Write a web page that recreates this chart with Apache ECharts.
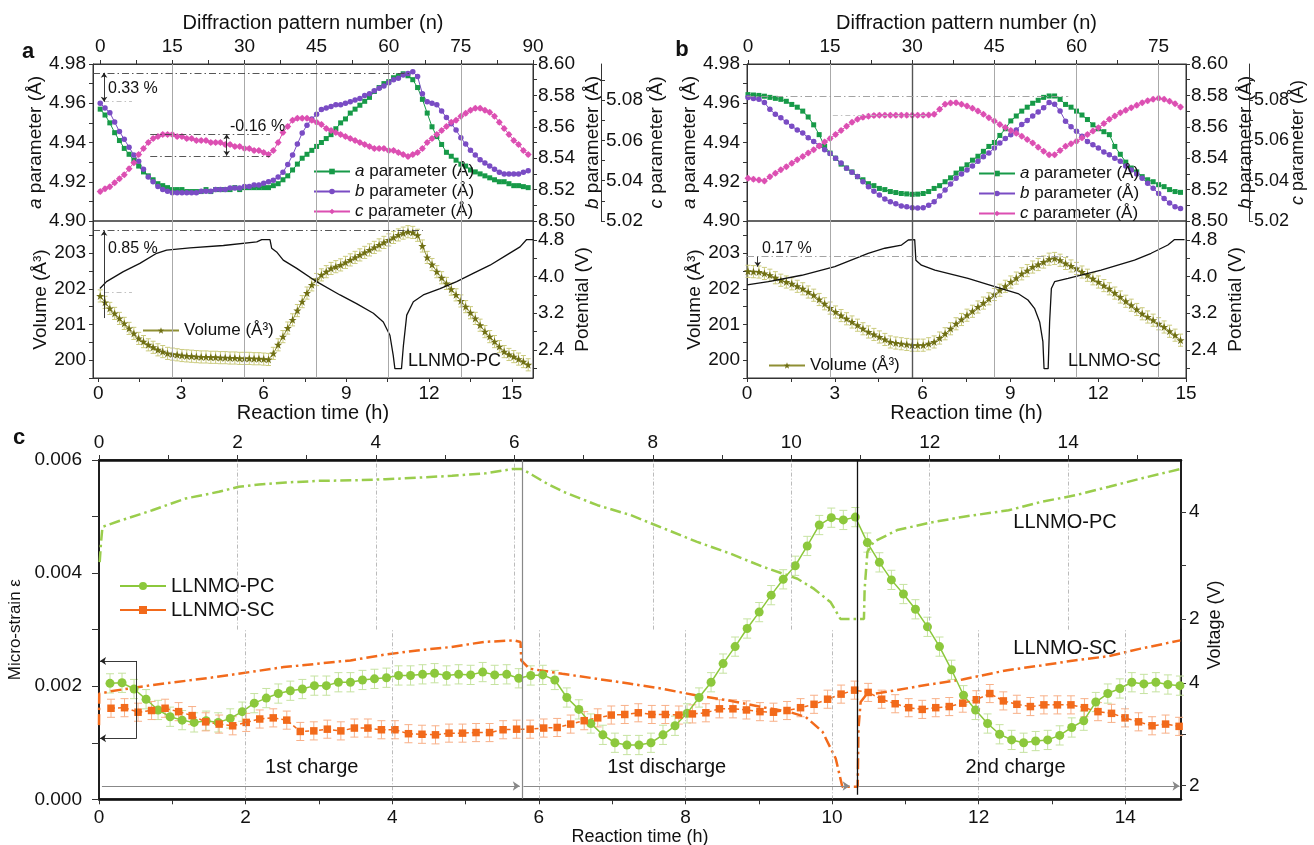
<!DOCTYPE html>
<html>
<head>
<meta charset="utf-8">
<script src="https://cdn.jsdelivr.net/npm/echarts@6/dist/echarts.min.js"></script>
<style>html,body{margin:0;padding:0;background:#fff}#main{width:1314px;height:845px}</style>
</head>
<body>
<div id="main"></div>
<script>
// ================= DATA =================
// Panel a (LLNMO-PC), one value per diffraction pattern n = 0..89
const aParamA = [4.957,4.954,4.950,4.945,4.941,4.937,4.934,4.931,4.928,4.925,
 4.923,4.921,4.919,4.918,4.917,4.916,4.916,4.916,4.915,4.915,
 4.915,4.915,4.916,4.915,4.916,4.916,4.916,4.916,4.917,4.916,
 4.917,4.917,4.917,4.917,4.917,4.917,4.918,4.919,4.921,4.923,
 4.926,4.929,4.932,4.934,4.936,4.938,4.940,4.942,4.944,4.947,
 4.950,4.952,4.955,4.957,4.959,4.961,4.963,4.966,4.968,4.970,
 4.971,4.973,4.974,4.975,4.974,4.972,4.968,4.962,4.955,4.948,
 4.943,4.939,4.935,4.933,4.931,4.929,4.928,4.926,4.925,4.924,
 4.923,4.922,4.921,4.920,4.920,4.919,4.918,4.918,4.9175,4.917];
const bParamA = [8.575,8.572,8.569,8.563,8.557,8.552,8.547,8.542,8.538,8.533,
 8.528,8.525,8.522,8.520,8.519,8.518,8.518,8.518,8.518,8.518,
 8.518,8.519,8.519,8.519,8.520,8.520,8.520,8.521,8.521,8.521,
 8.522,8.522,8.523,8.523,8.524,8.525,8.526,8.528,8.531,8.536,
 8.542,8.549,8.556,8.561,8.565,8.568,8.571,8.572,8.573,8.574,
 8.574,8.575,8.576,8.577,8.578,8.580,8.581,8.583,8.5845,8.586,
 8.588,8.590,8.591,8.593,8.594,8.595,8.592,8.581,8.576,8.575,
 8.574,8.570,8.566,8.562,8.558,8.553,8.549,8.545,8.542,8.539,
 8.537,8.535,8.533,8.531,8.530,8.530,8.530,8.530,8.531,8.532];
const cParamA = [5.0346,5.036,5.037,5.039,5.041,5.043,5.046,5.049,5.053,5.056,
 5.059,5.061,5.062,5.063,5.063,5.063,5.062,5.062,5.061,5.061,
 5.060,5.060,5.060,5.059,5.059,5.059,5.058,5.058,5.057,5.057,
 5.056,5.056,5.055,5.055,5.054,5.053,5.055,5.059,5.064,5.067,
 5.070,5.071,5.071,5.071,5.070,5.069,5.068,5.066,5.065,5.064,
 5.063,5.062,5.061,5.060,5.059,5.058,5.057,5.056,5.056,5.056,
 5.055,5.055,5.054,5.053,5.052,5.053,5.054,5.056,5.059,5.061,
 5.063,5.065,5.067,5.069,5.070,5.072,5.0735,5.075,5.076,5.076,
 5.075,5.074,5.072,5.069,5.066,5.063,5.060,5.058,5.055,5.053];
const volumeA = [201.80,201.62,201.45,201.31,201.17,201.03,200.89,200.75,200.61,200.52,
 200.43,200.36,200.29,200.24,200.19,200.17,200.15,200.13,200.12,200.11,
 200.10,200.09,200.09,200.08,200.08,200.07,200.07,200.06,200.06,200.05,
 200.05,200.05,200.04,200.04,200.03,200.02,200.19,200.43,200.66,200.90,
 201.13,201.39,201.64,201.88,202.11,202.26,202.39,202.48,202.57,202.62,
 202.67,202.74,202.81,202.88,202.95,203.02,203.09,203.16,203.23,203.30,
 203.37,203.44,203.51,203.56,203.60,203.58,203.50,203.20,202.88,202.68,
 202.48,202.31,202.15,201.99,201.83,201.66,201.50,201.33,201.17,200.98,
 200.80,200.66,200.52,200.38,200.24,200.16,200.10,200.03,199.96,199.87];
const potTimeA = [0.06,0.30,0.91,1.51,2.12,2.48,3.33,4.54,5.75,5.93,6.23,6.29,6.47,6.71,7.20,7.92,8.77,9.37,9.98,10.34,
 10.58,10.70,10.76,11.0,11.07,11.19,11.43,11.79,12.4,13.0,13.6,14.21,14.81,15.3,15.54,15.78];
const potA = [3.74,3.89,4.11,4.29,4.51,4.58,4.63,4.68,4.76,4.81,4.81,4.62,4.54,4.36,4.18,3.89,3.60,3.41,3.20,3.01,
 2.72,2.28,1.99,1.99,2.50,3.16,3.45,3.60,3.74,3.89,4.07,4.25,4.47,4.65,4.81,4.81];

// Panel b (LLNMO-SC), n = 0..79
const aParamB = [4.9644,4.9642,4.964,4.9636,4.963,4.9625,4.962,4.961,4.9594,4.958,
 4.956,4.953,4.949,4.944,4.938,4.9346,4.932,4.929,4.927,4.925,
 4.9226,4.921,4.919,4.918,4.9166,4.916,4.915,4.9145,4.914,4.9138,
 4.9136,4.9137,4.914,4.915,4.9166,4.918,4.920,4.922,4.9244,4.9265,
 4.9286,4.931,4.933,4.9355,4.938,4.940,4.9436,4.947,4.951,4.9535,
 4.956,4.958,4.960,4.9615,4.963,4.9637,4.9637,4.962,4.9594,4.958,
 4.956,4.954,4.9517,4.949,4.947,4.9455,4.944,4.938,4.934,4.930,
 4.927,4.925,4.9226,4.921,4.920,4.9185,4.9175,4.916,4.915,4.9146];
const bParamB = [8.5786,8.578,8.5775,8.5754,8.5711,8.568,8.5657,8.563,8.5604,8.558,
 8.5561,8.553,8.5507,8.548,8.5454,8.543,8.540,8.537,8.5336,8.531,
 8.5283,8.525,8.5218,8.519,8.5165,8.514,8.5122,8.511,8.5096,8.509,
 8.5084,8.5083,8.5084,8.510,8.5122,8.516,8.5197,8.5235,8.5272,8.530,
 8.5325,8.535,8.538,8.541,8.5433,8.5465,8.5497,8.5525,8.555,8.558,
 8.5615,8.564,8.5668,8.5695,8.5722,8.5754,8.5743,8.570,8.5636,8.560,
 8.5572,8.554,8.5507,8.5485,8.5465,8.544,8.5422,8.540,8.538,8.535,
 8.5325,8.530,8.5272,8.524,8.5208,8.5175,8.5143,8.5115,8.509,8.5079];
const cParamB = [5.0412,5.0408,5.0404,5.0399,5.042,5.0437,5.0454,5.047,5.0487,5.0504,
 5.0521,5.0538,5.0554,5.0573,5.0593,5.061,5.063,5.065,5.0671,5.069,
 5.0705,5.0715,5.0721,5.0724,5.0726,5.0726,5.0726,5.0726,5.0726,5.0726,
 5.0726,5.0726,5.0726,5.0727,5.073,5.0755,5.078,5.0786,5.0788,5.078,
 5.0771,5.076,5.0746,5.073,5.0713,5.0697,5.068,5.0665,5.065,5.0636,
 5.0621,5.0605,5.0588,5.0567,5.0546,5.0529,5.0529,5.055,5.0571,5.0584,
 5.0596,5.0613,5.063,5.0647,5.0663,5.0684,5.0705,5.0722,5.0738,5.075,
 5.0763,5.0775,5.0788,5.0797,5.0805,5.081,5.0805,5.0795,5.0783,5.0766];
const volumeB = [202.49,202.48,202.47,202.43,202.38,202.31,202.24,202.19,202.14,202.07,
 202.00,201.91,201.82,201.70,201.58,201.46,201.35,201.25,201.16,201.07,
 200.98,200.88,200.79,200.72,200.65,200.58,200.51,200.48,200.46,200.44,
 200.42,200.42,200.42,200.46,200.51,200.62,200.74,200.88,201.02,201.14,
 201.26,201.37,201.49,201.60,201.72,201.84,201.96,202.07,202.19,202.30,
 202.42,202.51,202.61,202.68,202.75,202.83,202.85,202.80,202.71,202.64,
 202.57,202.47,202.38,202.28,202.19,202.09,202.00,201.88,201.77,201.65,
 201.54,201.42,201.30,201.21,201.12,201.02,200.93,200.81,200.70,200.56];
const potTimeB = [0,0.73,1.87,3.0,4.14,4.71,5.28,5.51,5.73,5.77,5.96,6.42,7.55,8.69,9.26,9.6,9.83,10.0,10.11,10.15,
 10.29,10.34,10.4,10.51,10.97,12.1,13.24,13.81,14.38,14.61,14.95];
const potB = [3.82,3.89,4.03,4.22,4.51,4.62,4.69,4.80,4.81,4.36,4.25,4.14,3.96,3.74,3.63,3.49,3.30,3.01,2.58,1.99,
 1.99,3.01,3.74,3.89,3.96,4.14,4.36,4.51,4.69,4.81,4.81];

// Panel c: micro-strain per pattern, and voltage profiles
const strainPC = [0.00205,0.00206,0.00195,0.00177,0.00158,0.00146,0.00140,0.00136,0.00139,0.00136,
 0.00143,0.00155,0.00170,0.00179,0.00187,0.00192,0.00195,0.00201,0.00201,0.00207,
 0.00207,0.00211,0.00213,0.00215,0.00219,0.00219,0.00221,0.00223,0.00219,0.00221,
 0.00220,0.00225,0.00220,0.00221,0.00214,0.00219,0.00220,0.00211,0.00180,0.00159,
 0.00134,0.00114,0.00100,0.00096,0.00096,0.00100,0.00114,0.00130,0.00152,0.00180,
 0.00207,0.00240,0.00270,0.00302,0.00331,0.00361,0.00389,0.00413,0.00448,0.00485,
 0.00498,0.00494,0.00499,0.00454,0.00419,0.00388,0.00363,0.00336,0.00305,0.00270,
 0.00229,0.00184,0.00158,0.00134,0.00115,0.00105,0.00100,0.00103,0.00105,0.00113,
 0.00127,0.00139,0.00172,0.00187,0.00196,0.00207,0.00204,0.00207,0.00203,0.00201];
const strainSC = [0.00161,0.00162,0.00154,0.00157,0.00161,0.00155,0.00148,0.00137,0.00133,0.00130,
 0.00136,0.00142,0.00144,0.00140,0.00120,0.00121,0.00124,0.00121,0.00126,0.00126,
 0.00123,0.00123,0.00116,0.00115,0.00114,0.00117,0.00117,0.00118,0.00118,0.00123,
 0.00124,0.00124,0.00126,0.00127,0.00133,0.00139,0.00144,0.00149,0.00150,0.00153,
 0.00150,0.00150,0.00149,0.00151,0.00153,0.00160,0.00160,0.00158,0.00155,0.00154,
 0.00157,0.00162,0.00168,0.00177,0.00186,0.00193,0.00189,0.00177,0.00169,0.00162,
 0.00159,0.00162,0.00164,0.00170,0.00176,0.00187,0.00174,0.00168,0.00164,0.00167,
 0.00167,0.00167,0.00162,0.00155,0.00152,0.00144,0.00137,0.00130,0.00133,0.00129];
const voltTimePC = [0.01,0.03,0.05,0.29,0.77,1.25,1.73,2.02,2.31,2.70,3.18,3.66,4.14,4.62,5.10,5.58,5.97,6.11,6.26,6.47,
 6.71,7.20,7.68,8.16,8.64,9.12,9.60,9.89,10.09,10.33,10.57,10.71,11.05,11.06,11.10,11.19,11.53,12.01,12.49,13.14,
 13.62,14.10,14.59,15.07,15.62];
const voltPC = [3.06,3.44,3.72,3.83,4.03,4.25,4.375,4.47,4.51,4.55,4.58,4.59,4.61,4.64,4.675,4.72,4.80,4.80,4.69,4.53,
 4.375,4.125,3.94,3.69,3.44,3.22,2.97,2.84,2.75,2.56,2.31,2.0,2.0,2.56,3.25,3.44,3.66,3.80,3.91,4.03,
 4.19,4.31,4.47,4.63,4.80];
const voltTimeSC = [0,0.003,0.16,0.7,1.61,2.52,3.43,3.89,4.34,4.80,5.25,5.66,5.75,5.76,5.87,6.32,6.78,7.23,7.68,8.14,
 8.59,9.05,9.41,9.64,9.87,10.05,10.14,10.35,10.36,10.39,10.46,10.87,11.32,11.78,12.39,12.85,13.30,13.76,14.21,14.75];
const voltSC = [3.18,3.79,3.84,3.955,4.12,4.31,4.44,4.55,4.635,4.70,4.80,4.83,4.80,4.44,4.28,4.18,4.085,3.99,3.89,3.76,
 3.66,3.53,3.44,3.34,3.05,2.53,1.98,1.98,3.11,3.63,3.76,3.86,3.97,4.07,4.25,4.34,4.44,4.52,4.67,4.83];

// Tick labels
const nLabelsA = [0,15,30,45,60,75,90];
const nLabelsB = [0,15,30,45,60,75];
const timeLabelsAB = [0,3,6,9,12,15];
const aLabels = [4.90,4.92,4.94,4.96,4.98];
const bLabels = [8.50,8.52,8.54,8.56,8.58,8.60];
const cLabels = [5.02,5.04,5.06,5.08];
const volLabels = [200,201,202,203];
const potLabels = [2.4,3.2,4.0,4.8];
const timeLabelsC = [0,2,4,6,8,10,12,14];
const strainLabels = [0,0.002,0.004,0.006];
const voltLabelsC = [2,4];
const phaseLabels = ['1st charge','1st discharge','2nd charge'];
const legendABC = ['a parameter (Å)','b parameter (Å)','c parameter (Å)'];

// ================= STYLE / LAYOUT =================
const FONT = '"Liberation Sans", Arial, Helvetica, sans-serif';
const nMinorA = [0,7.5,15,22.5,30,37.5,45,52.5,60,67.5,75,82.5,90];
const nMinorB = [0,7.5,15,22.5,30,37.5,45,52.5,60,67.5,75];
const tMinorAB = [0,1.5,3,4.5,6,7.5,9,10.5,12,13.5,15];
const aMinor = [4.90,4.91,4.92,4.93,4.94,4.95,4.96,4.97,4.98];
const bMinor = [8.50,8.51,8.52,8.53,8.54,8.55,8.56,8.57,8.58,8.59,8.60];
const cMinor = [5.02,5.03,5.04,5.05,5.06,5.07,5.08,5.09];
const volMinor = [199.5,200,200.5,201,201.5,202,202.5,203,203.5];
const potMinor = [2.0,2.4,2.8,3.2,3.6,4.0,4.4,4.8];
const tMinorC = [0,1,2,3,4,5,6,7,8,9,10,11,12,13,14,15];
const strainMinor = [0,0.001,0.002,0.003,0.004,0.005,0.006];
const gridN = [15,30,45,60,75];
const gridTC = [2,4,6,8,10,12,14];

const COL = {
  a:'#179a48', aErr:'#93d4a6',
  b:'#7a4cc4', bErr:'#bda8e6',
  c:'#dc4fb2', cErr:'#f0a8dc',
  v:'#6f6f14', vLine:'#8f8f34', vErr:'#cbcb7e',
  pc:'#8cc83c', pcErr:'#c6e3a0',
  sc:'#f26a1b', scErr:'#f8b088'
};
const STAR = 'path://M12,1 L15,9 L23,9 L16.5,14 L19,22 L12,17 L5,22 L7.5,14 L1,9 L9,9 Z';

const idx = arr => arr.map((_, i) => i);
const pts = (xs, ys) => ys.map((v, i) => [xs[i], v]);
const nA = idx(aParamA), nB = idx(aParamB), kPC = idx(strainPC), jSC = idx(strainSC);

function vAxis(o) {
  const ax = {
    type:'value', nameLocation:'middle',
    splitLine:{show:false},
    axisLine:{show:true, onZero:false, lineStyle:{color:'#333', width:1}},
    axisTick:{show:true, length:4, lineStyle:{color:'#333', width:1}},
    axisLabel:{color:'#111', fontFamily:FONT, fontSize:19},
    nameTextStyle:{color:'#111', fontFamily:FONT, fontSize:19}
  };
  Object.keys(o).forEach(k => {
    const v = o[k];
    if (v && typeof v === 'object' && !Array.isArray(v) && ax[k] && typeof ax[k] === 'object') ax[k] = Object.assign({}, ax[k], v);
    else ax[k] = v;
  });
  return ax;
}
const hid = (g, min, max) => ({type:'value', gridIndex:g, show:false, min:min, max:max, splitLine:{show:false}});
const f0 = v => String(v), f1 = v => v.toFixed(1), f2 = v => v.toFixed(2), f3 = v => v.toFixed(3);
const ital = {i:{fontStyle:'italic', fontFamily:FONT, fontSize:19, color:'#111'}};
const nameStyle = (sz, rich) => ({color:'#111', fontFamily:FONT, fontSize:sz, rich: rich});

function errBars(xi, yi, xs, ys, err, color, cap) {
  return {type:'custom', xAxisIndex:xi, yAxisIndex:yi, silent:true, z:1,
    data: ys.map((v, i) => [xs[i], v - err, v + err]),
    encode:{x:0, y:[1,2]},
    renderItem:(p, api) => {
      const x = api.value(0);
      const lo = api.coord([x, api.value(1)]);
      const hi = api.coord([x, api.value(2)]);
      const st = {stroke:color, lineWidth:1};
      return {type:'group', children:[
        {type:'line', shape:{x1:lo[0], y1:lo[1], x2:hi[0], y2:hi[1]}, style:st},
        {type:'line', shape:{x1:lo[0]-cap, y1:lo[1], x2:lo[0]+cap, y2:lo[1]}, style:st},
        {type:'line', shape:{x1:hi[0]-cap, y1:hi[1], x2:hi[0]+cap, y2:hi[1]}, style:st}
      ]};
    }};
}
function ml(data) { return {silent:true, animation:false, symbol:['none','none'], label:{show:false}, emphasis:{disabled:true}, data:data}; }
const vl = (x, color, width, type) => ({xAxis:x, lineStyle:{color:color, width:width, type:type || 'solid'}});
function seg(x1, y1, x2, y2, style, s1, s2, size) {
  return [{coord:[x1,y1], symbol:s1 || 'none', symbolSize:size || 6, lineStyle:style},
          {coord:[x2,y2], symbol:s2 || 'none', symbolSize:size || 6, lineStyle:style}];
}
const DD_DARK = {color:'#444', width:0.9, type:[7,3,1.5,3]};
const DD_GRAY = {color:'#999', width:0.9, type:[7,3,1.5,3]};
const DASH_LT = {color:'#bbb', width:0.9, type:[5,3,1.5,3]};
const ARW = {color:'#222', width:0.9, type:'solid'};
const SOLID_BLACK = {color:'#111', width:1.3, type:'solid'};
const SOLID_GRAY = {color:'#888', width:1, type:'solid'};

function pLine(name, xi, yi, xs, ys, color, symbol, size, extra) {
  return Object.assign({
    name:name, type:'line', xAxisIndex:xi, yAxisIndex:yi, data:pts(xs, ys),
    symbol:symbol, symbolSize:size, showSymbol:true, z:3,
    itemStyle:{color:color}, lineStyle:{color:color, width:1}
  }, extra || {});
}

const gridBox = {show:true, borderColor:'#333', borderWidth:1, backgroundColor:'transparent', outerBoundsMode:'none', containLabel:false};

const option = {
  animation:false,
  backgroundColor:'#fff',
  textStyle:{fontFamily:FONT},
  grid:[
    Object.assign({left:93, top:64, width:440, height:157}, gridBox),
    Object.assign({left:93, top:221, width:440, height:157}, gridBox),
    Object.assign({left:747, top:64, width:439, height:157}, gridBox),
    Object.assign({left:747, top:221, width:439, height:157}, gridBox),
    {left:99, top:460, width:1082, height:339.3, show:true, borderColor:'#111', borderWidth:1.5, outerBoundsMode:'none', containLabel:false},
    {left:99, top:460, width:1082, height:169.6, outerBoundsMode:'none', containLabel:false},
    {left:99, top:629.6, width:1082, height:169.7, outerBoundsMode:'none', containLabel:false}
  ],
  xAxis:[
    vAxis({gridIndex:0, position:'top', min:-1.5, max:90, name:'Diffraction pattern number (n)', nameGap:31,
      nameTextStyle:nameStyle(20), axisTick:{customValues:nMinorA}, axisLabel:{customValues:nLabelsA, formatter:f0, margin:8}}),
    vAxis({gridIndex:1, position:'bottom', min:-0.19, max:15.77, name:'Reaction time (h)', nameGap:24,
      nameTextStyle:nameStyle(20), axisTick:{customValues:tMinorAB}, axisLabel:{customValues:timeLabelsAB, formatter:f0, margin:6}}),
    hid(1, -1.5, 90),
    vAxis({gridIndex:2, position:'top', min:-0.18, max:80, name:'Diffraction pattern number (n)', nameGap:31,
      nameTextStyle:nameStyle(20), axisTick:{customValues:nMinorB}, axisLabel:{customValues:nLabelsB, formatter:f0, margin:8}}),
    vAxis({gridIndex:3, position:'bottom', min:0, max:15, name:'Reaction time (h)', nameGap:24,
      nameTextStyle:nameStyle(20), axisTick:{customValues:tMinorAB}, axisLabel:{customValues:timeLabelsAB, formatter:f0, margin:6}}),
    hid(3, -0.18, 80),
    vAxis({gridIndex:4, position:'bottom', min:0, max:14.76, name:'Reaction time (h)', nameGap:28,
      nameTextStyle:nameStyle(18), axisLine:{show:true, onZero:false, lineStyle:{color:'#111', width:2.5}},
      axisTick:{customValues:tMinorC, length:5}, axisLabel:{customValues:timeLabelsC, formatter:f0, margin:9, fontSize:19}}),
    vAxis({gridIndex:4, position:'top', min:0, max:15.63,
      axisLine:{show:true, onZero:false, lineStyle:{color:'#111', width:2.5}},
      axisTick:{customValues:tMinorC, length:5}, axisLabel:{customValues:timeLabelsC, formatter:f0, margin:8, fontSize:19}}),
    hid(4, -0.915, 89.09),
    hid(4, -0.888, 79.14),
    hid(5, 0, 15.63),
    hid(6, 0, 14.76)
  ],
  yAxis:[
    vAxis({gridIndex:0, position:'left', min:4.90, max:4.98, name:'{i|a} parameter (Å)', nameGap:39, nameRotate:90,
      nameTextStyle:nameStyle(19, ital), axisTick:{customValues:aMinor}, axisLabel:{customValues:aLabels, formatter:f2, margin:7}}),
    vAxis({gridIndex:0, position:'right', min:8.50, max:8.60, name:'{i|b} parameter (Å)', nameGap:50, nameRotate:90,
      nameTextStyle:nameStyle(19, ital), axisTick:{customValues:bMinor}, axisLabel:{customValues:bLabels, formatter:f2, margin:5}}),
    vAxis({gridIndex:0, position:'right', offset:68, min:5.02, max:5.098, name:'{i|c} parameter (Å)', nameGap:45, nameRotate:90,
      nameTextStyle:nameStyle(19, ital), axisTick:{customValues:cMinor}, axisLabel:{customValues:cLabels, formatter:f2, margin:5}}),
    vAxis({gridIndex:1, position:'left', min:199.5, max:203.9, name:'Volume (Å³)', nameGap:39, nameRotate:90,
      axisTick:{customValues:volMinor}, axisLabel:{customValues:volLabels, formatter:f0, margin:7}}),
    vAxis({gridIndex:1, position:'right', min:1.786, max:5.215, name:'Potential (V)', nameGap:40, nameRotate:90,
      axisTick:{customValues:potMinor}, axisLabel:{customValues:potLabels, formatter:f1, margin:5}}),
    vAxis({gridIndex:2, position:'left', min:4.90, max:4.98, name:'{i|a} parameter (Å)', nameGap:39, nameRotate:90,
      nameTextStyle:nameStyle(19, ital), axisTick:{customValues:aMinor}, axisLabel:{customValues:aLabels, formatter:f2, margin:7}}),
    vAxis({gridIndex:2, position:'right', min:8.50, max:8.60, name:'{i|b} parameter (Å)', nameGap:50, nameRotate:90,
      nameTextStyle:nameStyle(19, ital), axisTick:{customValues:bMinor}, axisLabel:{customValues:bLabels, formatter:f2, margin:5}}),
    vAxis({gridIndex:2, position:'right', offset:63, min:5.02, max:5.098, name:'{i|c} parameter (Å)', nameGap:40, nameRotate:90,
      nameMoveOverlap:false,
      nameTextStyle:nameStyle(18, {i:{fontStyle:'italic', fontFamily:FONT, fontSize:18, color:'#111'}}),
      axisTick:{customValues:cMinor}, axisLabel:{customValues:cLabels, formatter:f2, margin:5, fontSize:18}}),
    vAxis({gridIndex:3, position:'left', min:199.5, max:203.9, name:'Volume (Å³)', nameGap:39, nameRotate:90,
      axisTick:{customValues:volMinor}, axisLabel:{customValues:volLabels, formatter:f0, margin:7}}),
    vAxis({gridIndex:3, position:'right', min:1.786, max:5.215, name:'Potential (V)', nameGap:40, nameRotate:90,
      axisTick:{customValues:potMinor}, axisLabel:{customValues:potLabels, formatter:f1, margin:5}}),
    vAxis({gridIndex:4, position:'left', min:0, max:0.006, name:'Micro-strain ε', nameGap:70, nameRotate:90,
      nameTextStyle:nameStyle(17), axisLine:{show:true, onZero:false, lineStyle:{color:'#111', width:1.5}},
      axisTick:{customValues:strainMinor, length:7}, axisLabel:{customValues:strainLabels, formatter:f3, margin:17, fontSize:19}}),
    vAxis({gridIndex:5, position:'right', min:1.8, max:4.97,
      axisLine:{show:true, onZero:false, lineStyle:{color:'#111', width:1.5}},
      axisTick:{customValues:[2,3,4], length:5}, axisLabel:{customValues:voltLabelsC, formatter:f0, margin:8, fontSize:19}}),
    vAxis({gridIndex:6, position:'right', min:1.736, max:5.04,
      axisLine:{show:true, onZero:false, lineStyle:{color:'#111', width:1.5}},
      axisTick:{customValues:[2,3,4], length:5}, axisLabel:{customValues:voltLabelsC, formatter:f0, margin:8, fontSize:19}})
  ],
  legend:[
    {left:308, top:157, orient:'vertical', itemWidth:36, itemHeight:7, itemGap:1, selectedMode:false, data:legendABC,
      formatter: n => '{i|' + n.charAt(0) + '}' + n.slice(1),
      textStyle:{color:'#111', fontFamily:FONT, fontSize:17, lineHeight:19, rich:{i:{fontStyle:'italic', fontFamily:FONT, fontSize:17, lineHeight:19, color:'#111'}}}},
    {left:137, top:316, orient:'vertical', itemWidth:36, itemHeight:8, selectedMode:false, data:['Volume (Å³)'],
      textStyle:{color:'#111', fontFamily:FONT, fontSize:17, lineHeight:19}},
    {left:973, top:159, orient:'vertical', itemWidth:36, itemHeight:7, itemGap:1, selectedMode:false, data:legendABC,
      formatter: n => '{i|' + n.charAt(0) + '}' + n.slice(1),
      textStyle:{color:'#111', fontFamily:FONT, fontSize:17, lineHeight:19, rich:{i:{fontStyle:'italic', fontFamily:FONT, fontSize:17, lineHeight:19, color:'#111'}}}},
    {left:763, top:351, orient:'vertical', itemWidth:36, itemHeight:8, selectedMode:false, data:['Volume (Å³)'],
      textStyle:{color:'#111', fontFamily:FONT, fontSize:17, lineHeight:19}},
    {left:114, top:570, orient:'vertical', itemWidth:46, itemHeight:10, itemGap:2, selectedMode:false, data:['LLNMO-PC','LLNMO-SC'],
      lineStyle:{type:'solid'}, textStyle:{color:'#111', fontFamily:FONT, fontSize:20, lineHeight:22}}
  ],
  series:[
    // ----- panel a top -----
    errBars(0, 0, nA, aParamA, 0.0008, COL.aErr, 2),
    errBars(0, 1, nA, bParamA, 0.0010, COL.bErr, 2),
    errBars(0, 2, nA, cParamA, 0.0010, COL.cErr, 2),
    pLine(legendABC[0], 0, 0, nA, aParamA, COL.a, 'rect', 5, {markLine: ml([
      ...gridN.map(v => vl(v, '#aaa', 1)),
      seg(-1.5, 4.9755, 64.4, 4.9755, DD_DARK),
      seg(0.8, 4.9608, 6.6, 4.9608, DASH_LT),
      seg(0.8, 4.9608, 0.8, 4.9755, ARW, 'arrow', 'arrow', 5)
    ])}),
    pLine(legendABC[1], 0, 1, nA, bParamA, COL.b, 'circle', 5.5),
    pLine(legendABC[2], 0, 2, nA, cParamA, COL.c, 'diamond', 7, {markLine: ml([
      seg(10.4, 5.0631, 35.3, 5.0631, DD_DARK),
      seg(10.4, 5.0524, 35.3, 5.0524, DD_DARK),
      seg(26.3, 5.0524, 26.3, 5.0631, ARW, 'arrow', 'arrow', 5)
    ])}),
    // ----- panel a bottom -----
    errBars(2, 3, nA, volumeA, 0.17, COL.vErr, 2.5),
    pLine('Volume (Å³)', 2, 3, nA, volumeA, COL.v, STAR, 8, {lineStyle:{color:COL.vLine, width:1}, markLine: ml([
      ...gridN.map(v => vl(v, '#aaa', 1)),
      seg(-1.5, 203.63, 67.1, 203.63, DD_DARK),
      seg(0.8, 201.89, 6.6, 201.89, DASH_LT),
      seg(0.8, 201.18, 0.8, 203.63, ARW, 'none', 'arrow', 5)
    ])}),
    {type:'line', xAxisIndex:1, yAxisIndex:4, data:pts(potTimeA, potA), symbol:'none', z:4, lineStyle:{color:'#111', width:1.3}},
    // ----- panel b top -----
    errBars(3, 5, nB, aParamB, 0.0008, COL.aErr, 2),
    errBars(3, 6, nB, bParamB, 0.0010, COL.bErr, 2),
    errBars(3, 7, nB, cParamB, 0.0010, COL.cErr, 2),
    pLine(legendABC[0], 3, 5, nB, aParamB, COL.a, 'rect', 5, {markLine: ml([
      vl(15, '#aaa', 1), vl(30, '#555', 1.4), vl(45, '#aaa', 1), vl(60, '#aaa', 1), vl(75, '#aaa', 1),
      seg(-0.18, 4.9638, 58.5, 4.9638, DD_GRAY)
    ])}),
    pLine(legendABC[1], 3, 6, nB, bParamB, COL.b, 'circle', 5.5),
    pLine(legendABC[2], 3, 7, nB, cParamB, COL.c, 'diamond', 7, {markLine: ml([
      seg(15.5, 5.0723, 32.9, 5.0723, DASH_LT)
    ])}),
    // ----- panel b bottom -----
    errBars(5, 8, nB, volumeB, 0.17, COL.vErr, 2.5),
    pLine('Volume (Å³)', 5, 8, nB, volumeB, COL.v, STAR, 8, {lineStyle:{color:COL.vLine, width:1}, markLine: ml([
      vl(15, '#aaa', 1), vl(30, '#555', 1.4), vl(45, '#aaa', 1), vl(60, '#aaa', 1), vl(75, '#aaa', 1),
      seg(-0.18, 202.9, 58.5, 202.9, DD_GRAY),
      seg(1.77, 202.9, 1.77, 202.62, ARW, 'none', 'arrow', 5)
    ])}),
    {type:'line', xAxisIndex:4, yAxisIndex:9, data:pts(potTimeB, potB), symbol:'none', z:4, lineStyle:{color:'#111', width:1.3}},
    // ----- panel c -----
    {type:'line', xAxisIndex:10, yAxisIndex:11, data:pts(voltTimePC, voltPC), symbol:'none', z:2,
      lineStyle:{color:'#9acd4c', width:2.5, type:[11,4,2.5,4]},
      markLine: ml(gridTC.map(v => vl(v, '#aaa', 0.8, [4,2,1,2])))},
    {type:'line', xAxisIndex:11, yAxisIndex:12, data:pts(voltTimeSC, voltSC), symbol:'none', z:2,
      lineStyle:{color:COL.sc, width:2.5, type:[11,4,2.5,4]},
      markLine: ml(gridTC.map(v => vl(v, '#aaa', 0.8, [4,2,1,2])))},
    {type:'line', xAxisIndex:6, yAxisIndex:10, data:[], symbol:'none', z:5, markLine: ml([
      vl(5.77, '#888', 1.2),
      seg(10.34, 0.006, 10.34, 0.00008, SOLID_BLACK),
      {yAxis:0.003, lineStyle:SOLID_BLACK},
      seg(0.04, 0.000235, 5.74, 0.000235, SOLID_GRAY, 'none', 'arrow', 7),
      seg(5.79, 0.000235, 10.24, 0.000235, SOLID_GRAY, 'none', 'arrow', 7),
      seg(10.36, 0.000235, 14.74, 0.000235, SOLID_GRAY, 'none', 'arrow', 7),
      seg(0.514, 0.002446, 0.014, 0.002446, ARW, 'none', 'arrow', 6),
      seg(0.514, 0.002446, 0.514, 0.001079, ARW),
      seg(0.514, 0.001079, 0.014, 0.001079, ARW, 'none', 'arrow', 6)
    ])},
    errBars(8, 10, kPC, strainPC, 0.00017, COL.pcErr, 4),
    errBars(9, 10, jSC, strainSC, 0.00016, COL.scErr, 4),
    pLine('LLNMO-PC', 8, 10, kPC, strainPC, COL.pc, 'circle', 9, {lineStyle:{color:COL.pc, width:1.5}}),
    pLine('LLNMO-SC', 9, 10, jSC, strainSC, COL.sc, 'rect', 7.5, {lineStyle:{color:COL.sc, width:1.5, type:[4,3]}})
  ],
  graphic:[]
};

function txt(x, y, text, size, align, extra) {
  return {type:'text', x:x, y:y, silent:true, z:100, style:Object.assign({
    text:text, fill:'#111', fontSize:size, fontFamily:FONT,
    align:align || 'left', verticalAlign:'middle', textAlign:align || 'left', textVerticalAlign:'middle'
  }, extra || {})};
}
option.graphic = [
  txt(28, 52, 'a', 22, 'center', {fontWeight:'bold'}),
  txt(682, 50, 'b', 22, 'center', {fontWeight:'bold'}),
  txt(19, 438, 'c', 22, 'center', {fontWeight:'bold'}),
  txt(108, 89, '0.33 %', 16),
  txt(230, 127, '-0.16 %', 16),
  txt(108, 249, '0.85 %', 16),
  txt(408, 361, 'LLNMO-PC', 18),
  txt(762, 249, '0.17 %', 16),
  txt(1068, 361, 'LLNMO-SC', 18),
  txt(311.7, 767, phaseLabels[0], 20, 'center'),
  txt(666.7, 767, phaseLabels[1], 20, 'center'),
  txt(1015.5, 767, phaseLabels[2], 20, 'center'),
  txt(1065, 522, 'LLNMO-PC', 20, 'center'),
  txt(1065, 648, 'LLNMO-SC', 20, 'center'),
  Object.assign(txt(1215, 625, 'Voltage (V)', 18, 'center'), {rotation: Math.PI / 2})
];

const chart = echarts.init(document.getElementById('main'), null, {renderer:'canvas'});
chart.setOption(option);
</script>
</body>
</html>
